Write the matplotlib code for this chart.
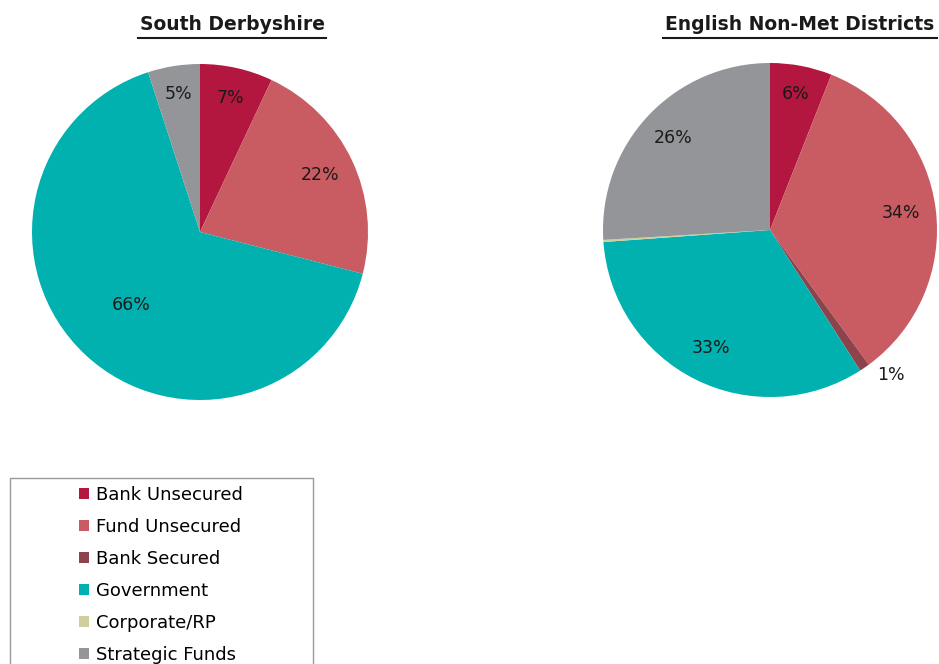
import numpy as np
import matplotlib
matplotlib.use("Agg")
import matplotlib.pyplot as plt
from matplotlib.patches import Rectangle, Patch
from matplotlib.lines import Line2D

plt.rcParams['font.family'] = ['DejaVu Sans']

# data
categories = ["Bank Unsecured", "Fund Unsecured", "Bank Secured",
              "Government", "Corporate/RP", "Strategic Funds"]
colors = ["#B3163F", "#C95B63", "#8C434B", "#00B1AF", "#D0CE9C", "#939599"]
south_derbyshire = [7, 22, 0, 66, 0, 5]
english_non_met = [6, 34, 1, 33, 0.2, 26]
titles = ["South Derbyshire", "English Non-Met Districts"]

# label placement per slice: (distance, angle nudge in degrees), None = no label
sd_label_pos = [(0.82, 0), (0.79, 0), None, (0.6, 0), None, (0.83, 0)]
en_label_pos = [(0.83, 0), (0.79, 0), (1.13, 5.5), (0.79, 0), None, (0.8, 0)]

W, H = 939, 664
fig = plt.figure(figsize=(W / 100, H / 100), dpi=100)

def px_axes(cx, cy, r):
    return fig.add_axes([(cx - r) / W, (H - cy - r) / H, 2 * r / W, 2 * r / H])

def draw_pie(ax, vals, label_pos):
    wedges, _ = ax.pie(vals, colors=colors, startangle=90, counterclock=False,
                       radius=1.0, wedgeprops=dict(linewidth=0))
    for w, v, pos in zip(wedges, vals, label_pos):
        if pos is None:
            continue
        r, nudge = pos
        ang = np.deg2rad((w.theta1 + w.theta2) / 2 + nudge)
        ax.text(r * np.cos(ang), r * np.sin(ang), f"{round(v)}%",
                ha="center", va="center", fontsize=12.5, color="#1a1a1a")
    ax.set_xlim(-1, 1)
    ax.set_ylim(-1, 1)
    ax.set_aspect("equal")
    ax.axis("off")

ax1 = px_axes(200, 232, 168)
draw_pie(ax1, south_derbyshire, sd_label_pos)
ax2 = px_axes(770, 230, 167)
draw_pie(ax2, english_non_met, en_label_pos)

# underlined titles
for (x0, x1, ty), t in zip([(138, 326, 24), (663, 937, 24)], titles):
    fig.text((x0 + x1) / 2 / W, 1 - ty / H, t, ha="center", va="center",
             fontsize=13.5, fontweight="bold", color="#1a1a1a")
    fig.add_artist(Line2D([x0 / W, x1 / W], [1 - 38 / H, 1 - 38 / H],
                          color="#1a1a1a", linewidth=1.5))

# legend box (runs off the bottom of the figure)
fig.add_artist(Rectangle((10 / W, -10 / H), 303 / W, (H - 478 + 10) / H,
                         transform=fig.transFigure, facecolor="white",
                         edgecolor="#999999", linewidth=1))
handles = [Patch(facecolor=c, edgecolor="none") for c in colors]
fig.legend(handles, categories, loc="upper left",
           bbox_to_anchor=(70 / W, 1 - 477 / H), frameon=False,
           fontsize=13, handlelength=0.55, handleheight=0.55,
           handletextpad=0.4, labelspacing=0.77, borderpad=0)

fig.savefig("out.png", dpi=100)
